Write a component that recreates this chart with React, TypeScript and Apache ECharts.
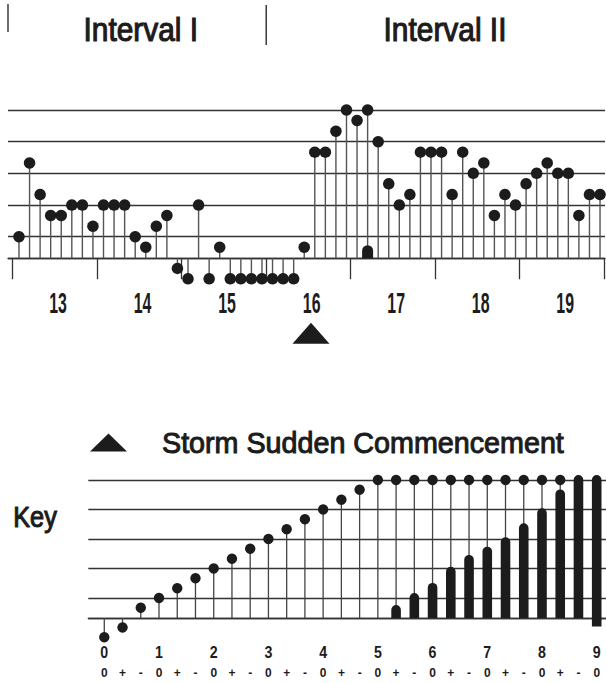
import React, { useEffect, useRef } from 'react';
import * as echarts from 'echarts';

const FONT = "'Liberation Sans', Arial, Helvetica, sans-serif";
const INK = '#1c1c1c';
const GRID = '#333333';
const STEM = '#555555';
const BASE = 0.32; // level of the stem baseline (Kp scale, thirds below it hang down)

// ---------- upper panel: three-hourly Kp, days 13-19 ----------
const dayLabels = ['13', '14', '15', '16', '17', '18', '19'];
const dayBoundaries = [-0.6, 7.4, 15.4, 23.4, 31.4, 39.4, 47.4, 55.4];
const kpSeries = [
  1.0, 3.33, 2.33, 1.67, 1.67, 2.0, 2.0, 1.33,
  2.0, 2.0, 2.0, 1.0, 0.67, 1.33, 1.67, 0.0,
  -0.33, 2.0, -0.33, 0.67, -0.33, -0.33, -0.33, -0.33,
  -0.33, -0.33, -0.33, 0.67, 3.67, 3.67, 4.33, 5.0,
  4.67, 5.0, 4.0, 2.67, 2.0, 2.33, 3.67, 3.67,
  3.67, 2.33, 3.67, 3.0, 3.33, 1.67, 2.33, 2.0,
  2.67, 3.0, 3.33, 3.0, 3.0, 1.67, 2.33, 2.33,
];
const excessIndex = [33];
const excessTop = [0.73];
const sscTime = 27.64;
const intervalNames = ['Interval I', 'Interval II'];
const intervalStarts = [-1.04, 23.4];
const UPPER_X = [-1.04, 55.47];

// ---------- key panel ----------
const keyNumberLabels = ['0', '1', '2', '3', '4', '5', '6', '7', '8', '9'];
const keySignLabels = [
  '0', '+', '-', '0', '+', '-', '0', '+', '-', '0', '+', '-', '0', '+',
  '-', '0', '+', '-', '0', '+', '-', '0', '+', '-', '0', '+', '-', '0',
];
const keyDots = [
  -0.33, 0.0, 0.67, 1.0, 1.33, 1.67, 2.0, 2.33, 2.67, 3.0, 3.33, 3.67, 4.0, 4.33,
  4.67, 5.0, 5.0, 5.0, 5.0, 5.0, 5.0, 5.0, 5.0, 5.0, 5.0, 5.0, null, null,
];
const keyBarTops = [
  null, null, null, null, null, null, null, null, null, null, null, null, null, null,
  null, null, 0.76, 1.17, 1.51, 2.06, 2.46, 2.74, 3.06, 3.53, 4.04, 4.68, 5.17, 5.17,
];
const keyBarBottoms = [
  null, null, null, null, null, null, null, null, null, null, null, null, null, null,
  null, null, null, null, null, null, null, null, null, null, null, null, null, 0.03,
];
const KEY_X = [-0.877, 27.51];
const SSC_NAME = 'Storm Sudden Commencement';

const stemRender = (color: string, width: number) => (params: any, api: any) => {
  const x = api.value(0);
  const v = api.value(1);
  const p = api.coord([x, v]);
  const b = api.coord([x, BASE]);
  return {
    type: 'line',
    shape: { x1: p[0], y1: b[1], x2: p[0], y2: p[1] },
    style: { stroke: color, lineWidth: width },
  };
};

const barRender = (w: number) => (params: any, api: any) => {
  const x = api.value(0);
  const pt = api.coord([x, api.value(1)]);
  const pb = api.coord([x, api.value(2)]);
  return {
    type: 'rect',
    shape: { x: pt[0] - w / 2, y: pt[1], width: w, height: pb[1] - pt[1], r: [w / 2, w / 2, 0, 0] },
    style: { fill: INK },
  };
};

const labelRender = (labels: string[], dy: number, fontSize: number, scaleX: number) =>
  (params: any, api: any) => {
    const b = api.coord([api.value(0), BASE]);
    return {
      type: 'text',
      x: b[0],
      y: b[1] + dy,
      scaleX,
      style: {
        text: labels[params.dataIndex],
        fontSize,
        fontWeight: 'bold',
        fontFamily: FONT,
        fill: INK,
        align: 'center',
        verticalAlign: 'middle',
      },
    };
  };

const yAxisCfg = (gridIndex: number) => ({
  type: 'value',
  gridIndex,
  min: BASE,
  max: 5,
  splitNumber: 5,
  axisLine: { show: false },
  axisTick: { show: false },
  axisLabel: { show: false },
  splitLine: { show: true, lineStyle: { color: GRID, width: 1.3 } },
});

export default function App() {
  const ref = useRef<HTMLDivElement>(null);

  useEffect(() => {
    document.body.style.margin = '0';
    if (!ref.current) return;
    const chart = echarts.init(ref.current, null, { renderer: 'svg' });

    const upperDots = kpSeries.map((v, i) => [i, v]);
    const upperBars = excessIndex.map((i, k) => [i, excessTop[k], BASE]);
    const dayCenters = dayLabels.map((_, k) => [dayBoundaries[k] + 4.3, BASE]);

    const keyDotData = keyDots
      .map((v, i) => (v == null ? null : [i, v]))
      .filter((d) => d !== null) as number[][];
    const keyBarData = keyBarTops
      .map((t, i) => (t == null ? null : [i, t, keyBarBottoms[i] == null ? BASE : keyBarBottoms[i]]))
      .filter((d) => d !== null) as number[][];
    const keyNumData = keyNumberLabels.map((_, k) => [3 * k, BASE]);
    const keySignData = keySignLabels.map((_, i) => [i, BASE]);

    const solid = { color: INK, opacity: 1 };

    const option: any = {
      animation: false,
      backgroundColor: '#ffffff',
      grid: [
        { left: 8, width: 597, top: 110, height: 148.24 },
        { left: 88.3, width: 517.7, top: 480, height: 138.06 },
      ],
      xAxis: [
        {
          type: 'value',
          gridIndex: 0,
          min: UPPER_X[0],
          max: UPPER_X[1],
          axisLine: { show: true, lineStyle: { color: GRID, width: 1.3 } },
          axisTick: {
            show: true,
            customValues: dayBoundaries,
            length: 21,
            lineStyle: { color: GRID, width: 1.3 },
          },
          axisLabel: { show: false },
          splitLine: { show: false },
        },
        {
          type: 'value',
          gridIndex: 1,
          min: KEY_X[0],
          max: KEY_X[1],
          axisLine: { show: true, lineStyle: { color: GRID, width: 1.3 } },
          axisTick: { show: false },
          axisLabel: { show: false },
          splitLine: { show: false },
        },
      ],
      yAxis: [yAxisCfg(0), yAxisCfg(1)],
      legend: {
        data: [SSC_NAME],
        left: 90,
        top: 427.5,
        padding: 0,
        icon: 'triangle',
        itemWidth: 37,
        itemHeight: 18,
        selectedMode: false,
        itemStyle: { color: INK, opacity: 1 },
        textStyle: {
          fontSize: 28.7,
          fontFamily: FONT,
          color: INK,
          padding: [0, 0, 0, 30],
          textBorderColor: INK,
          textBorderWidth: 1,
        },
      },
      series: [
        {
          type: 'custom', name: 'stems', xAxisIndex: 0, yAxisIndex: 0, clip: false,
          renderItem: stemRender(STEM, 1.4), data: upperDots, z: 2,
        },
        {
          type: 'custom', name: 'excess', xAxisIndex: 0, yAxisIndex: 0, clip: false,
          renderItem: barRender(11), data: upperBars, z: 3,
        },
        {
          type: 'scatter', name: 'Kp', xAxisIndex: 0, yAxisIndex: 0, clip: false,
          symbol: 'circle', symbolSize: 11.5, itemStyle: solid, data: upperDots, z: 4,
        },
        {
          type: 'custom', name: 'days', xAxisIndex: 0, yAxisIndex: 0, clip: false,
          renderItem: labelRender(dayLabels, 44.5, 30, 0.53), data: dayCenters, z: 4,
        },
        {
          type: 'scatter', name: SSC_NAME, xAxisIndex: 0, yAxisIndex: 0, clip: false,
          symbol: 'triangle', symbolSize: [37, 21], symbolOffset: [0, 75],
          itemStyle: solid, data: [[sscTime, BASE]], z: 4,
        },
        {
          type: 'custom', name: 'keyStems', xAxisIndex: 1, yAxisIndex: 1, clip: false,
          renderItem: stemRender('#444444', 1.3), data: keyDotData, z: 2,
        },
        {
          type: 'custom', name: 'keyBars', xAxisIndex: 1, yAxisIndex: 1, clip: false,
          renderItem: barRender(9.6), data: keyBarData, z: 3,
        },
        {
          type: 'scatter', name: 'keyDots', xAxisIndex: 1, yAxisIndex: 1, clip: false,
          symbol: 'circle', symbolSize: 10.4, itemStyle: solid, data: keyDotData, z: 4,
        },
        {
          type: 'custom', name: 'keyNumbers', xAxisIndex: 1, yAxisIndex: 1, clip: false,
          renderItem: labelRender(keyNumberLabels, 34.4, 16.3, 0.87), data: keyNumData, z: 4,
        },
        {
          type: 'custom', name: 'keySigns', xAxisIndex: 1, yAxisIndex: 1, clip: false,
          renderItem: labelRender(keySignLabels, 55, 13, 0.92), data: keySignData, z: 4,
        },
      ],
    };
    chart.setOption(option);

    const xs = intervalStarts.map((v) => chart.convertToPixel({ xAxisIndex: 0 }, v) as number);
    const headText = (text: string, x: number) => ({
      type: 'text',
      x,
      y: 29.7,
      scaleX: 0.92,
      style: {
        text,
        fontSize: 32.5,
        fontFamily: FONT,
        fill: INK,
        align: 'center',
        verticalAlign: 'middle',
        stroke: INK,
        lineWidth: 1.1,
      },
    });
    chart.setOption({
      graphic: [
        { type: 'line', shape: { x1: xs[0], y1: 4, x2: xs[0], y2: 32 }, style: { stroke: INK, lineWidth: 1.3 } },
        { type: 'line', shape: { x1: xs[1], y1: 5, x2: xs[1], y2: 45 }, style: { stroke: INK, lineWidth: 1.3 } },
        headText(intervalNames[0], 140.8),
        headText(intervalNames[1], 445),
        {
          type: 'text',
          x: 13.2,
          y: 517,
          scaleX: 0.88,
          style: {
            text: 'Key',
            fontSize: 28.8,
            fontFamily: FONT,
            fill: INK,
            align: 'left',
            verticalAlign: 'middle',
            stroke: INK,
            lineWidth: 1.1,
          },
        },
      ],
    });

    return () => chart.dispose();
  }, []);

  return <div ref={ref} style={{ width: 606, height: 683 }} />;
}
